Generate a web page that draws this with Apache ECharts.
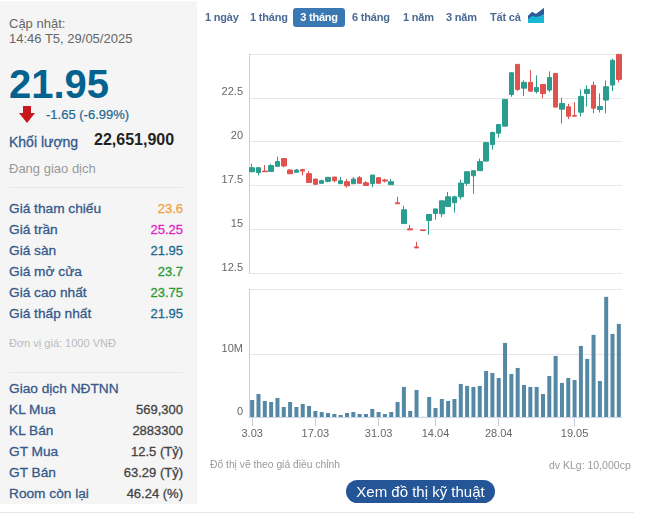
<!DOCTYPE html>
<html>
<head>
<meta charset="utf-8">
<title>Biểu đồ giá</title>
<script src="https://cdn.jsdelivr.net/npm/echarts@6/dist/echarts.min.js"></script>
<style>
html, body { margin: 0; padding: 0; background: #fff; }
body { width: 666px; height: 515px; position: relative; overflow: hidden; font-family: "Liberation Sans", Arial, sans-serif; }
#chart { position: absolute; left: 0; top: 0; width: 666px; height: 515px; }
#panel { position: absolute; left: 0; top: 1px; width: 197px; height: 503px; background: #f5f5f5; }
.t { position: absolute; white-space: nowrap; line-height: 16px; }
.lbl { left: 9px; font-size: 13.7px; color: #35598a; font-weight: 400; -webkit-text-stroke: 0.3px #35598a; }
.val { right: 483px; font-size: 13px; -webkit-text-stroke: 0.3px currentColor; }
.rule { position: absolute; left: 9px; width: 174px; height: 1px; background: #e8e8e8; }
.tab { position: absolute; top: 8px; height: 19px; line-height: 18px; font-size: 11px; letter-spacing: -0.2px; font-weight: 700; color: #4a6a94; }
.tab.on { left: 293px; width: 52px; text-align: center; background: #3a78b3; color: #fff; border-radius: 3px; }
.note { position: absolute; top: 458px; font-size: 10.5px; line-height: 14px; color: #999; }
#btn { position: absolute; left: 346px; top: 480px; width: 149px; height: 23px; line-height: 23px; text-align: center; border-radius: 12px; background: #235597; color: #fff; font-size: 15px; }
#foot { position: absolute; left: 0; top: 512px; width: 634px; height: 1px; background: #e8e8e8; }
</style>
</head>
<body>
<div id="chart"></div>
<div id="panel"></div>
<div id="side"></div>
<div id="tabs"></div>
<svg style="position:absolute;left:528px;top:8px" width="17" height="15" viewBox="0 0 17 15">
	<path d="M0 15V8L4 4L8 6L12 3L16 0V15Z" fill="#19b6d6"/>
	<path d="M0 8L4 4L8 6L12 3L16 0V6L12 8L8 9L4 8L0 11Z" fill="#2f5a97"/>
</svg>
<svg style="position:absolute;left:19px;top:106px" width="16" height="17" viewBox="0 0 16 17">
	<path d="M4 0H12V7H16L8 17L0 7H4Z" fill="#c9171e"/>
</svg>
<div class="note" style="left:210px;font-size:10.3px">Đổ thị vẽ theo giá điều chỉnh</div>
<div class="note" style="left:549px">dv KLg: 10,000cp</div>
<div id="btn">Xem đồ thị kỹ thuật</div>
<div id="foot"></div>
<script>
var dates = [
	'3.03','4.03','5.03','6.03','7.03','10.03','11.03','12.03','13.03','14.03',
	'17.03','18.03','19.03','20.03','21.03','24.03','25.03','26.03','27.03','28.03',
	'31.03','1.04','2.04','3.04','4.04','8.04','9.04','10.04','11.04',
	'14.04','15.04','16.04','17.04','18.04','21.04','22.04','23.04','24.04','25.04',
	'28.04','29.04','5.05','6.05','7.05','8.05','9.05',
	'12.05','13.05','14.05','15.05','16.05',
	'19.05','20.05','21.05','22.05','23.05','26.05','27.05','28.05'
];
var labelDates = ['3.03','17.03','31.03','14.04','28.04','19.05'];
var opens = [
	18.28,18.23,18.32,18.30,18.59,19.03,18.38,18.25,18.40,18.17,
	17.86,17.62,17.73,17.98,17.60,17.71,17.60,17.94,17.65,17.60,
	17.94,17.81,17.54,16.51,15.32,15.02,13.99,14.96,15.50,
	15.90,15.88,16.30,16.51,16.85,17.62,18.05,18.34,18.89,19.83,
	20.48,20.88,22.69,24.41,23.05,23.38,22.86,
	23.26,22.94,23.89,21.85,21.99,
	21.49,21.68,22.75,23.21,21.83,22.37,23.23,24.98
];
var closes = [
	18.51,18.51,18.28,18.63,18.86,18.61,18.17,18.38,18.32,17.67,
	17.56,17.77,17.96,17.77,17.77,17.48,17.86,17.62,17.50,18.09,
	17.62,17.75,17.71,16.45,16.11,14.96,13.93,14.92,15.84,
	16.16,16.62,16.85,16.85,17.63,18.28,18.34,18.86,19.94,20.52,
	20.97,22.41,23.93,22.98,23.38,22.88,23.09,
	22.75,23.66,21.97,22.18,21.45,
	21.45,22.58,22.98,21.91,22.00,23.13,24.64,23.55
];
var lows = [
	18.25,18.07,18.28,18.28,18.59,18.53,18.13,18.25,18.07,17.67,
	17.56,17.60,17.67,17.67,17.60,17.37,17.56,17.60,17.50,17.39,
	17.62,17.67,17.54,16.45,15.32,14.96,13.93,14.92,14.68,
	15.54,15.69,16.30,15.95,16.70,17.48,17.02,18.34,18.86,19.54,
	20.23,20.88,22.56,22.88,22.60,22.88,22.75,
	22.48,22.82,21.97,21.03,21.28,
	21.45,21.43,22.00,21.62,21.66,21.62,22.88,23.38
];
var highs = [
	18.74,18.55,18.66,18.72,19.14,19.03,18.44,18.44,18.45,18.32,
	17.88,17.83,17.98,17.98,17.98,17.88,17.98,18.04,17.75,18.09,
	17.98,17.88,17.86,16.85,16.34,15.25,14.28,14.96,15.84,
	16.16,16.62,17.12,16.91,17.83,18.28,18.34,19.03,19.98,20.57,
	21.01,22.41,23.95,24.41,23.49,24.08,23.78,
	23.26,24.01,23.89,22.50,22.16,
	22.25,22.98,23.21,23.42,22.75,23.49,24.73,24.98
];
// khoi luong, trieu cp
var volumes = [
	2.71,3.67,2.55,2.39,3.03,1.60,2.39,1.60,2.07,1.76,
	0.96,0.80,0.64,0.48,0.32,0.64,0.80,0.48,0.48,1.28,
	0.80,0.48,0.80,2.39,4.79,0.96,4.31,0.02,3.19,
	1.44,2.87,2.55,2.87,5.27,4.95,4.79,4.95,7.34,7.02,
	6.22,11.81,6.86,7.82,5.11,4.79,4.79,
	3.67,6.54,9.73,5.43,6.22,
	5.90,11.33,9.26,13.09,5.74,19.15,13.24,14.84
];
var tabNames = [['1 ngày',205],['1 tháng',250],['6 tháng',352],['1 năm',403],['3 năm',446],['Tất cả',490]];
var quoteRows = [
	['Giá tham chiếu','23.6','#f0a33f'],
	['Giá trần','25.25','#e01fc4'],
	['Giá sàn','21.95','#1a6a90'],
	['Giá mở cửa','23.7','#2a9a30'],
	['Giá cao nhất','23.75','#2a9a30'],
	['Giá thấp nhất','21.95','#1a6a90']
];
var foreignRows = [
	['KL Mua','569,300'],
	['KL Bán','2883300'],
	['GT Mua','12.5 (Tỷ)'],
	['GT Bán','63.29 (Tỷ)'],
	['Room còn lại','46.24 (%)']
];

function addText(parent, cls, text, top, style) {
	var el = document.createElement('div');
	el.className = 't ' + cls;
	el.textContent = text;
	el.style.top = (top - 8) + 'px';
	if(style) el.style.cssText += style;
	parent.appendChild(el);
	return el;
}

function buildSide() {
	var side = document.getElementById('side');
	addText(side, '', 'Cập nhật:', 24, 'left:9px;font-size:13px;color:#666');
	addText(side, '', '14:46 T5, 29/05/2025', 39, 'left:9px;font-size:13px;color:#666');
	addText(side, '', '21.95', 84, 'left:9px;font-size:40px;font-weight:700;color:#04628f;line-height:40px;margin-top:-12px');
	addText(side, '', '-1.65 (-6.99%)', 115, 'left:46px;font-size:13px;color:#24678e;-webkit-text-stroke:0.2px #24678e');
	addText(side, 'lbl', 'Khối lượng', 142, 'font-size:14px');
	addText(side, '', '22,651,900', 140, 'left:94px;font-size:16px;font-weight:700;color:#222');
	addText(side, '', 'Đang giao dịch', 169, 'left:9px;font-size:13px;color:#999');
	addText(side, '', 'Đơn vị giá: 1000 VNĐ', 343, 'left:9px;font-size:11px;color:#bbb');
	addText(side, 'lbl', 'Giao dịch NĐTNN', 389, '');
	[187, 372].forEach(function(y) {
		var r = document.createElement('div');
		r.className = 'rule';
		r.style.top = y + 'px';
		side.appendChild(r);
	});
	for(var i=0; i<quoteRows.length; i++) {
		addText(side, 'lbl', quoteRows[i][0], 209 + i*21, '');
		addText(side, 'val', quoteRows[i][1], 209 + i*21, 'color:' + quoteRows[i][2]);
	}
	for(var j=0; j<foreignRows.length; j++) {
		addText(side, 'lbl', foreignRows[j][0], 410 + j*21, '');
		addText(side, 'val', foreignRows[j][1], 410 + j*21, 'color:#444');
	}
}

function buildTabs() {
	var tabs = document.getElementById('tabs');
	tabNames.forEach(function(item) {
		var el = document.createElement('div');
		el.className = 'tab';
		el.style.left = item[1] + 'px';
		el.textContent = item[0];
		tabs.appendChild(el);
	});
	var on = document.createElement('div');
	on.className = 'tab on';
	on.textContent = '3 tháng';
	tabs.appendChild(on);
}

function buildChart() {
	var candles = [];
	for(var i=0; i<dates.length; i++) {
		candles.push([opens[i], closes[i], lows[i], highs[i]]);
	}
	var showDate = function(idx, value) {
		return labelDates.indexOf(value) != -1;
	};
	var tickIndexes = labelDates.map(function(d) { return dates.indexOf(d); });
	var chart = echarts.init(document.getElementById('chart'));
	chart.setOption({
		animation: false,
		textStyle: { fontFamily: '"Liberation Sans", Arial, sans-serif' },
		grid: [
			{ left: 249, top: 54, width: 373, height: 219 },
			{ left: 249, top: 289, width: 373, height: 128 }
		],
		xAxis: [{
			type: 'category',
			gridIndex: 0,
			data: dates,
			axisLine: { show: false },
			axisTick: { show: false },
			axisLabel: { show: false }
		}, {
			type: 'category',
			gridIndex: 1,
			data: dates,
			axisLine: { lineStyle: { color: '#ccd6eb' } },
			axisTick: { show: true, alignWithLabel: true, customValues: tickIndexes, length: 9, lineStyle: { color: '#c4cedc' } },
			axisLabel: { interval: showDate, color: '#666', fontSize: 11, margin: 11 }
		}],
		yAxis: [{
			type: 'value',
			gridIndex: 0,
			min: 12.5,
			max: 25,
			interval: 2.5,
			axisLine: { show: true, lineStyle: { color: '#ccd0d6' } },
			axisTick: { show: false },
			axisLabel: { color: '#666', fontSize: 11, margin: 6, verticalAlign: 'bottom', showMaxLabel: false },
			splitLine: { lineStyle: { color: '#e6e6e6' } }
		}, {
			type: 'value',
			gridIndex: 1,
			min: 0,
			max: 20.4,
			axisLine: { show: true, lineStyle: { color: '#ccd0d6' } },
			axisTick: { show: false, customValues: [0, 10, 20.4] },
			axisLabel: {
				customValues: [0, 10],
				color: '#666',
				fontSize: 11,
				margin: 6,
				verticalAlign: 'bottom',
				formatter: function(v) { return v == 0 ? '0' : v + 'M'; }
			},
			splitLine: { lineStyle: { color: '#e6e6e6' } }
		}],
		series: [{
			type: 'candlestick',
			xAxisIndex: 0,
			yAxisIndex: 0,
			barWidth: 5,
			itemStyle: {
				color: '#2a9d8f',
				color0: '#e0524f',
				borderColor: '#2a9d8f',
				borderColor0: '#e0524f',
				borderWidth: 1
			},
			data: candles
		}, {
			type: 'bar',
			xAxisIndex: 1,
			yAxisIndex: 1,
			barWidth: 4,
			itemStyle: { color: '#5488a5' },
			data: volumes
		}]
	});
}

buildSide();
buildTabs();
buildChart();
</script>
</body>
</html>
